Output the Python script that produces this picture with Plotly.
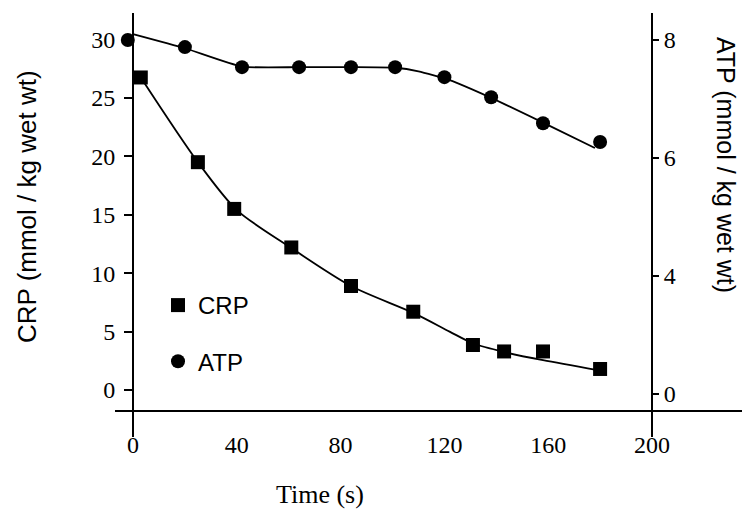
import plotly.graph_objects as go

# ---- data ----
crp_time = [3, 25, 39, 61, 84, 108, 131, 143, 158, 180]
crp_vals = [26.75, 19.5, 15.5, 12.2, 8.9, 6.7, 3.85, 3.3, 3.3, 1.8]

atp_time = [-2, 20, 42, 64, 84, 101, 120, 138, 158, 180]
atp_vals = [8.0, 7.88, 7.54, 7.54, 7.54, 7.54, 7.37, 7.03, 6.59, 6.27]

# fitted curves as drawn in the figure
crp_fit_time = [3, 25, 40, 60, 84, 108, 122, 131, 143, 158, 179]
crp_fit_vals = [26.75, 19.5, 15.4, 12.3, 8.9, 6.6, 5.0, 4.0, 3.25, 2.55, 1.7]

atp_fit_time = [0, 20, 42, 64, 84, 101, 110, 122, 138, 158, 178]
atp_fit_vals = [8.1, 7.86, 7.55, 7.54, 7.54, 7.53, 7.47, 7.32, 7.02, 6.6, 6.17]

x_ticks = [0, 40, 80, 120, 160, 200]
crp_ticks = [0, 5, 10, 15, 20, 25, 30]
atp_tickvals = [2, 4, 6, 8]
atp_ticktext = ["0", "4", "6", "8"]

# ---- layout geometry (pixels) ----
W, H = 742, 513
px_left, px_right = 115, 742        # x domain in pixels
py_top, py_bot = 13, 437            # y domain in pixels
x0_px, x200_px = 133, 652           # where x=0 and x=200 sit
crp30_py, crp0_py = 39.5, 390.0
atp8_py, atp_per = 40.0, 59.0
xaxis_py = 411

xs = (x200_px - x0_px) / 200.0
x_range = [(px_left - x0_px) / xs, (px_right - x0_px) / xs]
ys = (crp0_py - crp30_py) / 30.0
y_range = [(crp0_py - py_bot) / ys, (crp0_py - py_top) / ys]
y2_range = [8 - (py_bot - atp8_py) / atp_per, 8 - (py_top - atp8_py) / atp_per]

serif = "Liberation Serif"
sans = "Liberation Sans"

fig = go.Figure()
fig.add_trace(go.Scatter(x=crp_fit_time, y=crp_fit_vals, mode="lines",
                         line=dict(color="black", width=1.8, shape="spline",
                                   smoothing=0.8),
                         showlegend=False, hoverinfo="skip"))
fig.add_trace(go.Scatter(x=atp_fit_time, y=atp_fit_vals, mode="lines", yaxis="y2",
                         line=dict(color="black", width=1.8, shape="spline",
                                   smoothing=0.5),
                         showlegend=False, hoverinfo="skip"))
fig.add_trace(go.Scatter(x=crp_time, y=crp_vals, mode="markers", name="CRP",
                         legendgroup="a",
                         marker=dict(symbol="square", size=14, color="black")))
fig.add_trace(go.Scatter(x=atp_time, y=atp_vals, mode="markers", name="ATP",
                         yaxis="y2", legendgroup="b",
                         marker=dict(symbol="circle", size=14, color="black")))

fig.update_layout(
    width=W, height=H,
    margin=dict(l=0, r=0, t=0, b=0),
    paper_bgcolor="white", plot_bgcolor="white",
    xaxis=dict(domain=[px_left / W, px_right / W], range=x_range,
               anchor="free", position=(H - xaxis_py) / H,
               showgrid=False, zeroline=False, showline=True,
               linecolor="black", linewidth=2, ticks="",
               tickvals=x_ticks, ticklabelstandoff=12,
               tickfont=dict(family=serif, size=24, color="black")),
    yaxis=dict(domain=[(H - py_bot) / H, (H - py_top) / H], range=y_range,
               anchor="free", position=x0_px / W,
               showgrid=False, zeroline=False, showline=True,
               linecolor="black", linewidth=2, ticks="outside", ticklen=8,
               tickwidth=1.5, tickcolor="black",
               tickvals=crp_ticks, ticklabelstandoff=4,
               tickfont=dict(family=serif, size=24, color="black")),
    yaxis2=dict(domain=[(H - py_bot) / H, (H - py_top) / H], range=y2_range,
                overlaying="y", side="right", anchor="free",
                position=x200_px / W,
                showgrid=False, zeroline=False, showline=True,
                linecolor="black", linewidth=2, ticks="outside", ticklen=6,
                tickwidth=1.5, tickcolor="black",
                tickvals=atp_tickvals, ticktext=atp_ticktext,
                tickfont=dict(family=serif, size=24, color="black")),
    legend=dict(x=158 / W, y=(H - 283) / H, xanchor="left", yanchor="top",
                bgcolor="rgba(0,0,0,0)", traceorder="grouped",
                tracegroupgap=22,
                font=dict(family=sans, size=24, color="black")),
    annotations=[
        dict(text="CRP (mmol / kg wet wt)", x=27 / W, y=(H - 207) / H,
             xref="paper", yref="paper", showarrow=False, textangle=-90,
             xanchor="center", yanchor="middle",
             font=dict(family=sans, size=26, color="black")),
        dict(text="ATP (mmol / kg wet wt)", x=726 / W, y=(H - 165) / H,
             xref="paper", yref="paper", showarrow=False, textangle=90,
             xanchor="center", yanchor="middle",
             font=dict(family=sans, size=25, color="black")),
        dict(text="Time (s)", x=320 / W, y=(H - 494) / H,
             xref="paper", yref="paper", showarrow=False,
             xanchor="center", yanchor="middle",
             font=dict(family=serif, size=26, color="black")),
    ],
)

fig.write_html("out.html")
